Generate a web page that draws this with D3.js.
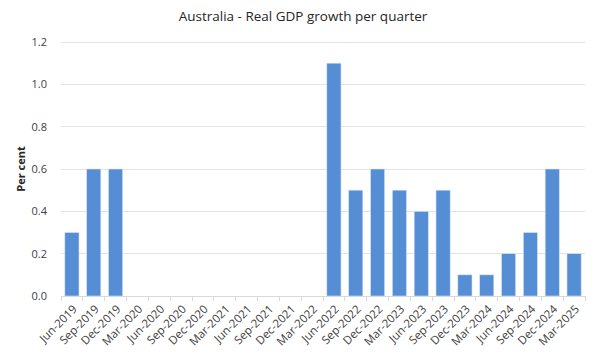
<!DOCTYPE html>
<html><head><meta charset="utf-8">
<script src="https://cdn.jsdelivr.net/npm/d3@7"></script>
<style>body{margin:0;background:#fff;}text{font-family:"Open Sans",Calibri,"Liberation Sans",sans-serif;}</style>
</head><body><svg id="c" width="600" height="360"></svg>
<script>
const categories = ["Jun-2019","Sep-2019","Dec-2019","Mar-2020","Jun-2020","Sep-2020","Dec-2020","Mar-2021","Jun-2021","Sep-2021","Dec-2021","Mar-2022","Jun-2022","Sep-2022","Dec-2022","Mar-2023","Jun-2023","Sep-2023","Dec-2023","Mar-2024","Jun-2024","Sep-2024","Dec-2024","Mar-2025"];
const values = [0.3,0.6,0.6,null,null,null,null,null,null,null,null,null,1.1,0.5,0.6,0.5,0.4,0.5,0.1,0.1,0.2,0.3,0.6,0.2];
const yTicks = [0,0.2,0.4,0.6,0.8,1.0,1.2];
const title = "Australia - Real GDP growth per quarter";
const yLabel = "Per cent";

const svg = d3.select("#c");
const m = {l:61, r:15, t:42, b:64};
const W = 600, H = 360;
const x = d3.scaleBand().domain(categories).range([m.l, W-m.r]).paddingInner(0.35).paddingOuter(0.175);
const y = d3.scaleLinear().domain([0,1.2]).range([H-m.b, m.t]);

// gridlines
svg.append("g").selectAll("line").data(yTicks.slice(1)).join("line")
  .attr("x1", m.l).attr("x2", W-m.r).attr("y1", d=>y(d)).attr("y2", d=>y(d))
  .attr("stroke", "#e3e3e3").attr("stroke-width",1).attr("shape-rendering","crispEdges");

// y labels
const ya = svg.append("g").attr("transform",`translate(${m.l},0)`)
  .call(d3.axisLeft(y).tickValues(yTicks).tickFormat(d3.format(".1f")).tickSize(0).tickPadding(14));
ya.select(".domain").remove();
ya.selectAll("text").attr("font-size",11).attr("fill","#404040").style("font-family","'Open Sans',sans-serif");

// bars
svg.append("g").selectAll("rect").data(categories.map((c,i)=>({c,v:values[i]})).filter(d=>d.v!=null)).join("rect")
  .attr("x", d=>x(d.c)).attr("width", x.bandwidth())
  .attr("y", d=>y(d.v)).attr("height", d=>y(0)-y(d.v))
  .attr("fill","#558ED5").attr("stroke","#dbe6f5").attr("stroke-width",0.6);

// x axis
const step = x.step();
const xa = svg.append("g").attr("transform",`translate(0,${y(0)})`);
xa.append("line").attr("x1",m.l).attr("x2",W-m.r).attr("y1",0).attr("y2",0).attr("stroke","#d9d9d9").attr("shape-rendering","crispEdges");
xa.selectAll("line.t").data(d3.range(categories.length+1)).join("line").attr("class","t")
  .attr("x1",i=>m.l+i*step).attr("x2",i=>m.l+i*step).attr("y1",0).attr("y2",5)
  .attr("stroke","#d9d9d9").attr("shape-rendering","crispEdges");
xa.selectAll("text").data(categories).join("text")
  .attr("transform", d=>`translate(${x(d)+x.bandwidth()/2+3},${11}) rotate(-45)`)
  .attr("text-anchor","end").attr("font-size",11.5).attr("fill","#404040").attr("dy","0.35em")
  .text(d=>d);

// title
svg.append("text").attr("x",W/2+3).attr("y",21).attr("text-anchor","middle").attr("font-size",13.5).attr("fill","#262626").text(title);
// y label
svg.append("text").attr("transform",`translate(25,${(y(0)+y(1.2))/2}) rotate(-90)`).attr("text-anchor","middle")
  .attr("font-size",11).attr("font-weight","bold").attr("fill","#262626").text(yLabel);
</script></body></html>
